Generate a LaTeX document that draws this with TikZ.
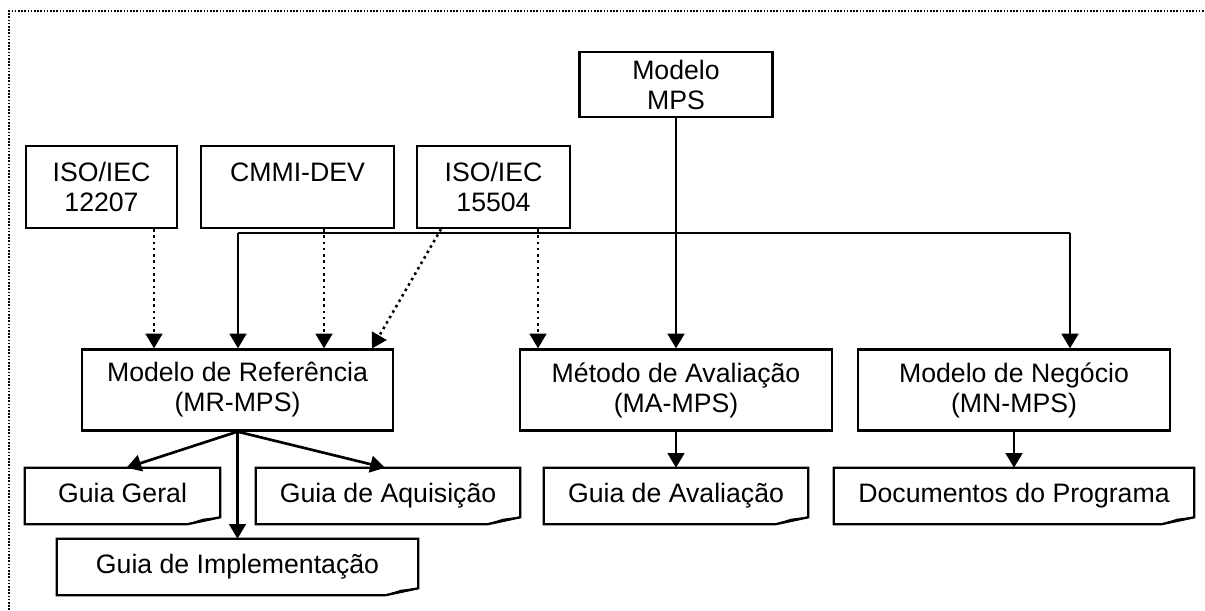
\documentclass[tikz,border=0pt]{standalone}
\usepackage{fontspec}
\setmainfont{Liberation Sans}
\usetikzlibrary{arrows.meta}
\newcommand\mydoc[1]{%
  \draw[boxline] (#1.north west) -- (#1.north east) -- ([yshift=7*0.75pt]#1.south east)
     -- ([xshift=-33*0.75pt]#1.south east) -- (#1.south west) -- cycle;
  \filldraw[boxline, fill=foldgray, line width=0.9pt] ([xshift=-33*0.75pt]#1.south east)
     -- ([xshift=-17*0.75pt,yshift=5*0.75pt]#1.south east) -- ([yshift=7*0.75pt]#1.south east) -- cycle;}
\definecolor{foldgray}{gray}{0.8}
\begin{document}
\begin{tikzpicture}[x=0.75pt,y=-0.75pt,
  boxline/.style={line width=1.7pt, line join=miter},
  box/.style={draw, boxline, inner sep=0pt, align=center, font=\fontsize{20}{22.5}\selectfont},
  docbox/.style={inner sep=0pt, align=center, font=\fontsize{20}{22.5}\selectfont, execute at begin node=\strut},
  arr/.style={line width=2pt, -{Triangle[width=12.5pt,length=11pt]}},
  dotarr/.style={line width=1.9pt, dash pattern=on 1.9pt off 2.8pt, -{Triangle[width=12.5pt,length=11pt]}},
  framestyle/.style={line width=1.3pt, dash pattern=on 1.2pt off 1.2pt}]
\useasboundingbox (0,0) rectangle (1205,610);
\draw[framestyle] (9,610) -- (9,11) -- (1205,11);

\node[box, minimum width=193*0.75pt, minimum height=65*0.75pt] (mps) at (676,84.5) {Modelo\\MPS};
\node[box, minimum width=151*0.75pt, minimum height=82*0.75pt] (iso12) at (101.5,187) {ISO/IEC\\12207};
\node[box, minimum width=193*0.75pt, minimum height=82*0.75pt] (cmmi) at (297.5,187) {CMMI-DEV\\\mbox{}};
\node[box, minimum width=153*0.75pt, minimum height=82*0.75pt] (iso15) at (493.5,187) {ISO/IEC\\15504};

\node[box, minimum width=311*0.75pt, minimum height=81*0.75pt] (mr) at (237.5,390) {Modelo de Referência\\(MR-MPS)};
\node[box, minimum width=312*0.75pt, minimum height=81*0.75pt] (ma) at (676,390) {Método de Avaliação\\(MA-MPS)};
\node[box, minimum width=312*0.75pt, minimum height=81*0.75pt] (mn) at (1014,390) {Modelo de Negócio\\(MN-MPS)};

\node[docbox, minimum width=195*0.75pt, minimum height=56*0.75pt] (gg) at (122.5,496) {Guia Geral};
\node[docbox, minimum width=264*0.75pt, minimum height=56*0.75pt] (gaq) at (388,496) {Guia de Aquisição};
\node[docbox, minimum width=361*0.75pt, minimum height=56*0.75pt] (gimp) at (237.5,567) {Guia de Implementação};
\node[docbox, minimum width=264*0.75pt, minimum height=56*0.75pt] (gav) at (676,496) {Guia de Avaliação};
\node[docbox, minimum width=360*0.75pt, minimum height=56*0.75pt] (doc) at (1014,496) {Documentos do Programa};
\mydoc{gg}\mydoc{gaq}\mydoc{gimp}\mydoc{gav}\mydoc{doc}

\coordinate (bl) at (238,233);
\coordinate (br) at (1070,233);
\coordinate (d1) at (154,0);
\coordinate (d2) at (324,0);
\coordinate (d3) at (441,0);
\coordinate (d4) at (372,0);
\coordinate (d5) at (538,0);

\draw[line width=2pt] (bl) -- (br);
\draw[arr] (bl) -- (bl |- mr.north);
\draw[arr] (br) -- (br |- mn.north);
\draw[arr] (mps.south) -- (ma.north);

\draw[dotarr] (iso12.south -| d1) -- (mr.north -| d1);
\draw[dotarr] (cmmi.south -| d2) -- (mr.north -| d2);
\draw[dotarr] (iso15.south -| d3) -- (mr.north -| d4);
\draw[dotarr] (iso15.south -| d5) -- (ma.north -| d5);

\draw[arr] (mr.south) -- ([xshift=4*0.75pt]gg.north);
\draw[arr] (mr.south) -- ([xshift=-3*0.75pt]gaq.north);
\draw[arr] (mr.south) -- (gimp.north);
\draw[arr] (ma.south) -- (gav.north);
\draw[arr] (mn.south) -- (doc.north);
\end{tikzpicture}
\end{document}
